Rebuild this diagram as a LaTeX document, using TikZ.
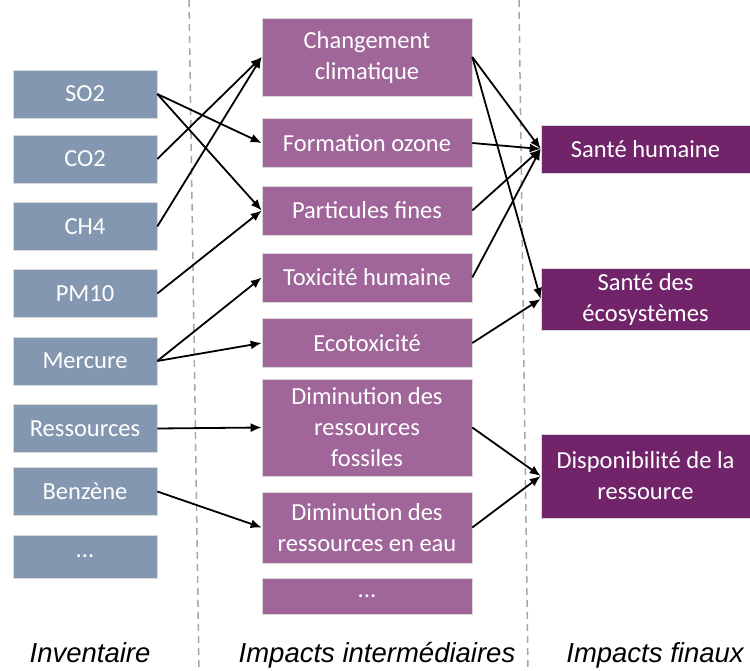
\documentclass[tikz,border=0pt]{standalone}
\usepackage{fontspec}
\setmainfont{Carlito}
\newfontfamily\colfont{Liberation Sans}
\usepackage{tikz}
\usetikzlibrary{arrows.meta}
\definecolor{invcolor}{HTML}{8497B0}
\definecolor{midcolor}{HTML}{A0669A}
\definecolor{fincolor}{HTML}{71246A}
\definecolor{sepcolor}{HTML}{A6A6A6}

\begin{document}
\begin{tikzpicture}[x=1pt,y=-1pt,
  box/.style={text=white,draw=white!85!black,line width=0.6pt,align=center,
    inner sep=0pt,font=\fontsize{24.5}{31}\selectfont},
  inv/.style={box,fill=invcolor,minimum width=144pt,minimum height=48pt},
  mid/.style={box,fill=midcolor,minimum width=210pt,minimum height=49pt},
  fin/.style={box,fill=fincolor,minimum width=209pt,minimum height=48pt},
  link/.style={black,line width=1.8pt,-{Latex[length=11pt,width=9pt]}},
  collabel/.style={anchor=base,font=\colfont\itshape\fontsize{27.5}{30}\selectfont}]
\useasboundingbox (0,0) rectangle (750,671);
\draw[sepcolor,line width=1.5pt,dash pattern=on 7pt off 5pt] (189,0) -- (199,671);
\draw[sepcolor,line width=1.5pt,dash pattern=on 7pt off 5pt] (519,0) -- (528,671);

% inventaire
\node[inv] (so2) at (85,94) {SO2};
\node[inv] (co2) at (85,159) {CO2};
\node[inv] (ch4) at (85,226.5) {CH4};
\node[inv] (pm10) at (85,293.5) {PM10};
\node[inv] (merc) at (85,361) {Mercure};
\node[inv] (ress) at (85,428.5) {Ressources};
\node[inv] (benz) at (85,491.5) {Benzène};
\node[inv,minimum height=43pt] (invdots) at (85,556.5) {...};

% impacts intermediaires
\node[mid,minimum height=78pt] (clim) at (367,57) {Changement\\climatique};
\node[mid] (ozone) at (367,143) {Formation ozone};
\node[mid] (part) at (367,210.5) {Particules fines};
\node[mid] (tox) at (367,277.5) {Toxicité humaine};
\node[mid] (ecotox) at (367,343) {Ecotoxicité};
\node[mid,minimum height=97pt] (fossil) at (367,427.5) {Diminution des\\ressources\\fossiles};
\node[mid,minimum height=71pt] (eau) at (367,527.5) {Diminution des\\ressources en eau};
\node[mid,minimum height=36pt] (middots) at (367,596) {...};

% impacts finaux
\node[fin] (sante) at (645.5,149) {Santé humaine};
\node[fin,minimum height=62pt] (eco) at (645.5,299) {Santé des\\écosystèmes};
\node[fin,minimum height=84pt] (dispo) at (645.5,476) {Disponibilité de la\\ressource};

\foreach \a/\b in {so2/ozone, so2/part, co2/clim, ch4/clim, pm10/part, merc/tox,
    merc/ecotox, ress/fossil, benz/eau, clim/sante, clim/eco, ozone/sante,
    part/sante, tox/sante, ecotox/eco, fossil/dispo, eau/dispo}
  \draw[link] (\a.east) -- (\b.west);

\node[collabel] (lblinv) at (90,662) {Inventaire};
\node[collabel] (lblmid) at (377,662) {Impacts intermédiaires};
\node[collabel] (lblfin) at (655,662) {Impacts finaux};
\end{tikzpicture}
\end{document}
